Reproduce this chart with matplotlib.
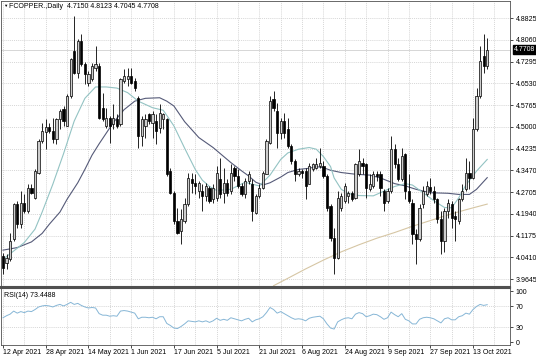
import matplotlib
matplotlib.use("Agg")
import matplotlib.pyplot as plt

# daily candles, 12 Apr 2021 .. 19 Oct 2021 (bar index = trading day)
OPEN = [4.046, 4.022, 4.034, 4.104, 4.227, 4.157, 4.233, 4.204, 4.286, 4.251,
        4.339, 4.450, 4.483, 4.499, 4.485, 4.456, 4.526, 4.561, 4.503, 4.608,
        4.766, 4.689, 4.802, 4.721, 4.655, 4.667, 4.705, 4.714, 4.567, 4.503,
        4.532, 4.509, 4.526, 4.509, 4.661, 4.667, 4.679, 4.661, 4.602, 4.468,
        4.503, 4.544, 4.514, 4.520, 4.497, 4.526, 4.526, 4.345, 4.268, 4.169,
        4.134, 4.169, 4.227, 4.315, 4.303, 4.274, 4.274, 4.257, 4.286, 4.245,
        4.251, 4.315, 4.268, 4.303, 4.274, 4.356, 4.327, 4.292, 4.262, 4.309,
        4.298, 4.198, 4.257, 4.286, 4.333, 4.444, 4.597, 4.555, 4.479, 4.520,
        4.491, 4.432, 4.380, 4.333, 4.345, 4.345, 4.300, 4.350, 4.356, 4.362,
        4.362, 4.327, 4.221, 4.110, 4.040, 4.216, 4.239, 4.257, 4.268, 4.251,
        4.333, 4.374, 4.368, 4.280, 4.292, 4.333, 4.333, 4.274, 4.239, 4.274,
        4.421, 4.368, 4.315, 4.403, 4.274, 4.233, 4.122, 4.104, 4.227, 4.262,
        4.288, 4.274, 4.245, 4.175, 4.098, 4.204, 4.227, 4.186, 4.169, 4.245,
        4.280, 4.339, 4.321, 4.491, 4.608, 4.749, 4.7150]
HIGH = [4.057, 4.052, 4.128, 4.233, 4.239, 4.274, 4.262, 4.298, 4.298, 4.350,
        4.456, 4.514, 4.526, 4.514, 4.532, 4.532, 4.561, 4.573, 4.614, 4.743,
        4.890, 4.809, 4.826, 4.728, 4.696, 4.725, 4.784, 4.725, 4.620, 4.567,
        4.538, 4.579, 4.544, 4.673, 4.702, 4.708, 4.708, 4.673, 4.608, 4.538,
        4.544, 4.550, 4.555, 4.544, 4.579, 4.550, 4.532, 4.356, 4.274, 4.216,
        4.210, 4.251, 4.339, 4.339, 4.333, 4.309, 4.298, 4.303, 4.292, 4.298,
        4.362, 4.391, 4.356, 4.315, 4.368, 4.362, 4.350, 4.303, 4.321, 4.345,
        4.315, 4.262, 4.298, 4.345, 4.456, 4.608, 4.626, 4.585, 4.532, 4.550,
        4.532, 4.438, 4.386, 4.356, 4.350, 4.356, 4.374, 4.374, 4.391, 4.427,
        4.380, 4.333, 4.227, 4.145, 4.274, 4.268, 4.303, 4.274, 4.274, 4.374,
        4.421, 4.391, 4.374, 4.333, 4.345, 4.345, 4.345, 4.280, 4.286, 4.468,
        4.438, 4.391, 4.427, 4.409, 4.333, 4.245, 4.140, 4.227, 4.292, 4.309,
        4.321, 4.292, 4.251, 4.204, 4.216, 4.245, 4.239, 4.204, 4.251, 4.298,
        4.391, 4.380, 4.532, 4.636, 4.784, 4.826, 4.8123]
LOW = [3.981, 3.999, 4.028, 4.098, 4.145, 4.145, 4.198, 4.198, 4.262, 4.245,
       4.333, 4.444, 4.421, 4.479, 4.444, 4.438, 4.491, 4.503, 4.503, 4.602,
       4.684, 4.672, 4.714, 4.650, 4.643, 4.661, 4.696, 4.526, 4.520, 4.497,
       4.444, 4.491, 4.497, 4.503, 4.655, 4.643, 4.649, 4.626, 4.427, 4.432,
       4.462, 4.509, 4.462, 4.438, 4.479, 4.491, 4.327, 4.262, 4.157, 4.122,
       4.087, 4.163, 4.221, 4.268, 4.262, 4.251, 4.204, 4.239, 4.233, 4.233,
       4.239, 4.251, 4.233, 4.257, 4.262, 4.309, 4.286, 4.257, 4.251, 4.298,
       4.169, 4.192, 4.251, 4.280, 4.333, 4.438, 4.555, 4.427, 4.456, 4.462,
       4.427, 4.368, 4.309, 4.327, 4.321, 4.245, 4.298, 4.345, 4.350, 4.356,
       4.321, 4.204, 4.098, 3.981, 4.034, 4.204, 4.233, 4.233, 4.239, 4.245,
       4.327, 4.333, 4.251, 4.274, 4.286, 4.309, 4.257, 4.204, 4.233, 4.268,
       4.356, 4.309, 4.309, 4.245, 4.233, 4.087, 4.016, 4.098, 4.216, 4.257,
       4.262, 4.233, 4.163, 4.051, 4.060, 4.180, 4.145, 4.098, 4.157, 4.239,
       4.274, 4.280, 4.315, 4.485, 4.602, 4.689, 4.7045]
CLOSE = [4.004, 4.040, 4.098, 4.227, 4.157, 4.233, 4.204, 4.286, 4.268, 4.345,
         4.450, 4.485, 4.499, 4.485, 4.456, 4.526, 4.555, 4.520, 4.608, 4.737,
         4.689, 4.802, 4.721, 4.686, 4.684, 4.714, 4.720, 4.532, 4.526, 4.532,
         4.503, 4.532, 4.503, 4.667, 4.679, 4.679, 4.655, 4.637, 4.468, 4.526,
         4.526, 4.520, 4.544, 4.485, 4.550, 4.544, 4.333, 4.268, 4.169, 4.128,
         4.175, 4.227, 4.321, 4.303, 4.292, 4.303, 4.257, 4.292, 4.239, 4.286,
         4.339, 4.262, 4.303, 4.268, 4.339, 4.327, 4.292, 4.262, 4.309, 4.333,
         4.204, 4.257, 4.286, 4.339, 4.450, 4.591, 4.567, 4.479, 4.520, 4.479,
         4.432, 4.380, 4.333, 4.345, 4.337, 4.292, 4.362, 4.368, 4.368, 4.374,
         4.327, 4.216, 4.110, 4.040, 4.251, 4.257, 4.292, 4.268, 4.245, 4.368,
         4.380, 4.362, 4.286, 4.298, 4.333, 4.327, 4.286, 4.233, 4.274, 4.421,
         4.368, 4.315, 4.397, 4.274, 4.239, 4.122, 4.104, 4.216, 4.274, 4.292,
         4.274, 4.245, 4.175, 4.098, 4.204, 4.233, 4.180, 4.175, 4.245, 4.274,
         4.339, 4.321, 4.491, 4.608, 4.731, 4.714, 4.7708]

# moving averages: (bar, value) knots
MA_FAST_X = [0, 3, 6, 9, 11, 14, 17, 20, 23, 26, 29, 32, 35, 38, 42, 45, 46, 48,
             51, 54, 56, 58, 60, 64, 68, 70, 72, 75, 78, 80, 83, 86, 88, 90, 92,
             93, 95, 97, 100, 104, 106, 110, 113, 115, 118, 121, 124, 126, 128,
             130, 133, 136]
MA_FAST_Y = [4.034, 4.063, 4.093, 4.140, 4.200, 4.298, 4.405, 4.520, 4.600, 4.640,
             4.640, 4.636, 4.620, 4.590, 4.567, 4.558, 4.540, 4.503, 4.425, 4.350,
             4.312, 4.290, 4.276, 4.280, 4.305, 4.298, 4.292, 4.330, 4.385, 4.408,
             4.421, 4.427, 4.421, 4.395, 4.360, 4.320, 4.280, 4.265, 4.258, 4.257,
             4.268, 4.290, 4.300, 4.295, 4.268, 4.240, 4.216, 4.215, 4.250, 4.295,
             4.344, 4.385]
MA_SLOW_X = [0, 4, 8, 11, 13, 16, 18, 21, 23, 25, 27, 31, 34, 37, 40, 44, 46, 48,
             51, 55, 59, 64, 67, 69, 71, 73, 75, 78, 80, 83, 86, 88, 90, 92, 95,
             99, 103, 106, 110, 113, 116, 120, 125, 128, 131, 133, 136]
MA_SLOW_Y = [4.066, 4.075, 4.095, 4.125, 4.157, 4.200, 4.245, 4.303, 4.350, 4.400,
             4.440, 4.515, 4.560, 4.590, 4.600, 4.602, 4.590, 4.573, 4.518, 4.462,
             4.427, 4.374, 4.345, 4.327, 4.305, 4.295, 4.303, 4.323, 4.339, 4.350,
             4.354, 4.360, 4.356, 4.347, 4.339, 4.333, 4.330, 4.320, 4.300, 4.292,
             4.280, 4.268, 4.266, 4.262, 4.262, 4.280, 4.321]
MA_LONG_X = [76, 80, 85, 90, 95, 100, 105, 110, 115, 120, 125, 130, 136]
MA_LONG_Y = [3.941, 3.967, 4.000, 4.031, 4.060, 4.085, 4.108, 4.128, 4.150, 4.170,
             4.190, 4.208, 4.228]

RSI = [48, 52, 55, 61, 57, 60, 58, 61, 60, 64, 69, 71, 72, 71, 69, 72, 74, 71, 74,
       78, 74, 76, 72, 69, 67, 68, 67, 56, 53, 53, 51, 52, 51, 61, 62, 61, 59, 57,
       46, 49, 49, 48, 49, 46, 50, 50, 37, 33, 28, 27, 31, 36, 42, 41, 40, 42, 40,
       42, 39, 42, 47, 43, 45, 43, 48, 46, 44, 42, 45, 47, 40, 44, 46, 50, 58, 68,
       64, 57, 60, 56, 52, 48, 45, 46, 45, 42, 47, 49, 50, 51, 46, 36, 28, 26, 40,
       44, 47, 48, 46, 55, 58, 56, 50, 52, 55, 54, 50, 45, 48, 59, 54, 50, 56, 45,
       42, 36, 36, 45, 48, 49, 48, 46, 42, 38, 46, 48, 44, 44, 50, 52, 57, 55, 64,
       70, 74, 72, 73.4488]

PRICE_TICKS = [3.9645, 4.0410, 4.1175, 4.1940, 4.2705, 4.3470, 4.4235, 4.5000,
               4.5765, 4.6530, 4.7295, 4.8060, 4.8825]
RSI_TICKS = [0, 30, 70, 100]
DATE_LABELS = ["12 Apr 2021", "28 Apr 2021", "14 May 2021", "1 Jun 2021",
               "17 Jun 2021", "5 Jul 2021", "21 Jul 2021", "6 Aug 2021",
               "24 Aug 2021", "9 Sep 2021", "27 Sep 2021", "13 Oct 2021"]
LABEL_EVERY = 12
GRID_EVERY = 6

plt.rcParams["font.family"] = ["Liberation Sans", "DejaVu Sans"]
FS = 5.0
GRID = dict(color="#c8c8c8", lw=0.5, ls=(0, (1.5, 1.5)), zorder=0)

W, H = 536, 357
fig = plt.figure(figsize=(W / 100, H / 100), dpi=100)
ax = fig.add_axes([1 / W, 1 - 287 / H, 509 / W, 286 / H])
rx = fig.add_axes([1 / W, 12 / H, 509 / W, 277 / H - 12 / H - 220 / H])
rx.set_position([1 / W, 12 / H, 509 / W, 57 / H])

n = len(CLOSE)
xs = list(range(n))
xlim = (-0.56, 142.4)

# candles
for i in xs:
    o, h, l, c = OPEN[i], HIGH[i], LOW[i], CLOSE[i]
    ax.vlines(i, l, h, color="black", lw=0.6, zorder=3)
    up = c >= o
    ax.bar(i, max(abs(c - o), 0.002), 0.62, bottom=min(o, c),
           color="#cdcdcd" if up else "black", edgecolor="black", lw=0.5, zorder=4)

ax.plot(MA_LONG_X, MA_LONG_Y, color="#d6c6a4", lw=0.8, zorder=2)
ax.plot(MA_SLOW_X, MA_SLOW_Y, color="#555a78", lw=0.8, zorder=2)
ax.plot(MA_FAST_X, MA_FAST_Y, color="#93c3c3", lw=0.8, zorder=2)

ax.axhline(CLOSE[-1], color="#d0d0d0", lw=0.6, zorder=1)
for p in PRICE_TICKS:
    ax.axhline(p, **GRID)
for a in (ax, rx):
    for g in range(0, int(xlim[1]) + 1, GRID_EVERY):
        a.axvline(g, **GRID)

ax.set_xlim(*xlim)
ax.set_ylim(3.9364, 4.9423)
ax.yaxis.tick_right()
ax.set_yticks(PRICE_TICKS)
ax.set_yticklabels([f"{p:.4f}" for p in PRICE_TICKS])
ax.tick_params(axis="y", length=2, width=0.5, pad=2, labelsize=FS)
ax.set_xticks([])

ax.annotate(f"{CLOSE[-1]:.4f}", xy=(1, CLOSE[-1]), xycoords=("axes fraction", "data"),
            xytext=(3, 0), textcoords="offset points", va="center", ha="left",
            fontsize=FS, color="white",
            bbox=dict(boxstyle="square,pad=0.15", fc="black", ec="black"))

fig.text(3 / W, 1 - 6 / H, "\u25bc", fontsize=3.2, va="center", ha="left")
fig.text(9 / W, 1 - 6 / H,
         f"FCOPPER.,Daily  {OPEN[-1]:.4f} {HIGH[-1]:.4f} {LOW[-1]:.4f} {CLOSE[-1]:.4f}",
         fontsize=FS, va="center", ha="left")

# RSI panel
rx.plot(xs, RSI, color="#86b6d6", lw=0.7, zorder=3)
for lv in (30, 70):
    rx.axhline(lv, **GRID)
rx.set_xlim(*xlim)
rx.set_ylim(-5, 105.9)
rx.yaxis.tick_right()
rx.set_yticks(RSI_TICKS)
rx.set_yticklabels([str(t) for t in RSI_TICKS])
rx.tick_params(axis="y", length=2, width=0.5, pad=2, labelsize=FS)
rx.set_xticks(range(0, n, LABEL_EVERY))
rx.set_xticklabels(DATE_LABELS, ha="left")
rx.tick_params(axis="x", length=2, width=0.5, pad=1, labelsize=FS)
rx.text(0.005, 0.93, f"RSI(14) {RSI[-1]:.4f}", transform=rx.transAxes,
        fontsize=FS, va="top", ha="left")

for a in (ax, rx):
    for s in a.spines.values():
        s.set_linewidth(0.6)
        s.set_color("#505050")
ax.spines["bottom"].set_linewidth(1.5)
rx.spines["top"].set_linewidth(1.5)

fig.savefig("out.png", dpi=100)
